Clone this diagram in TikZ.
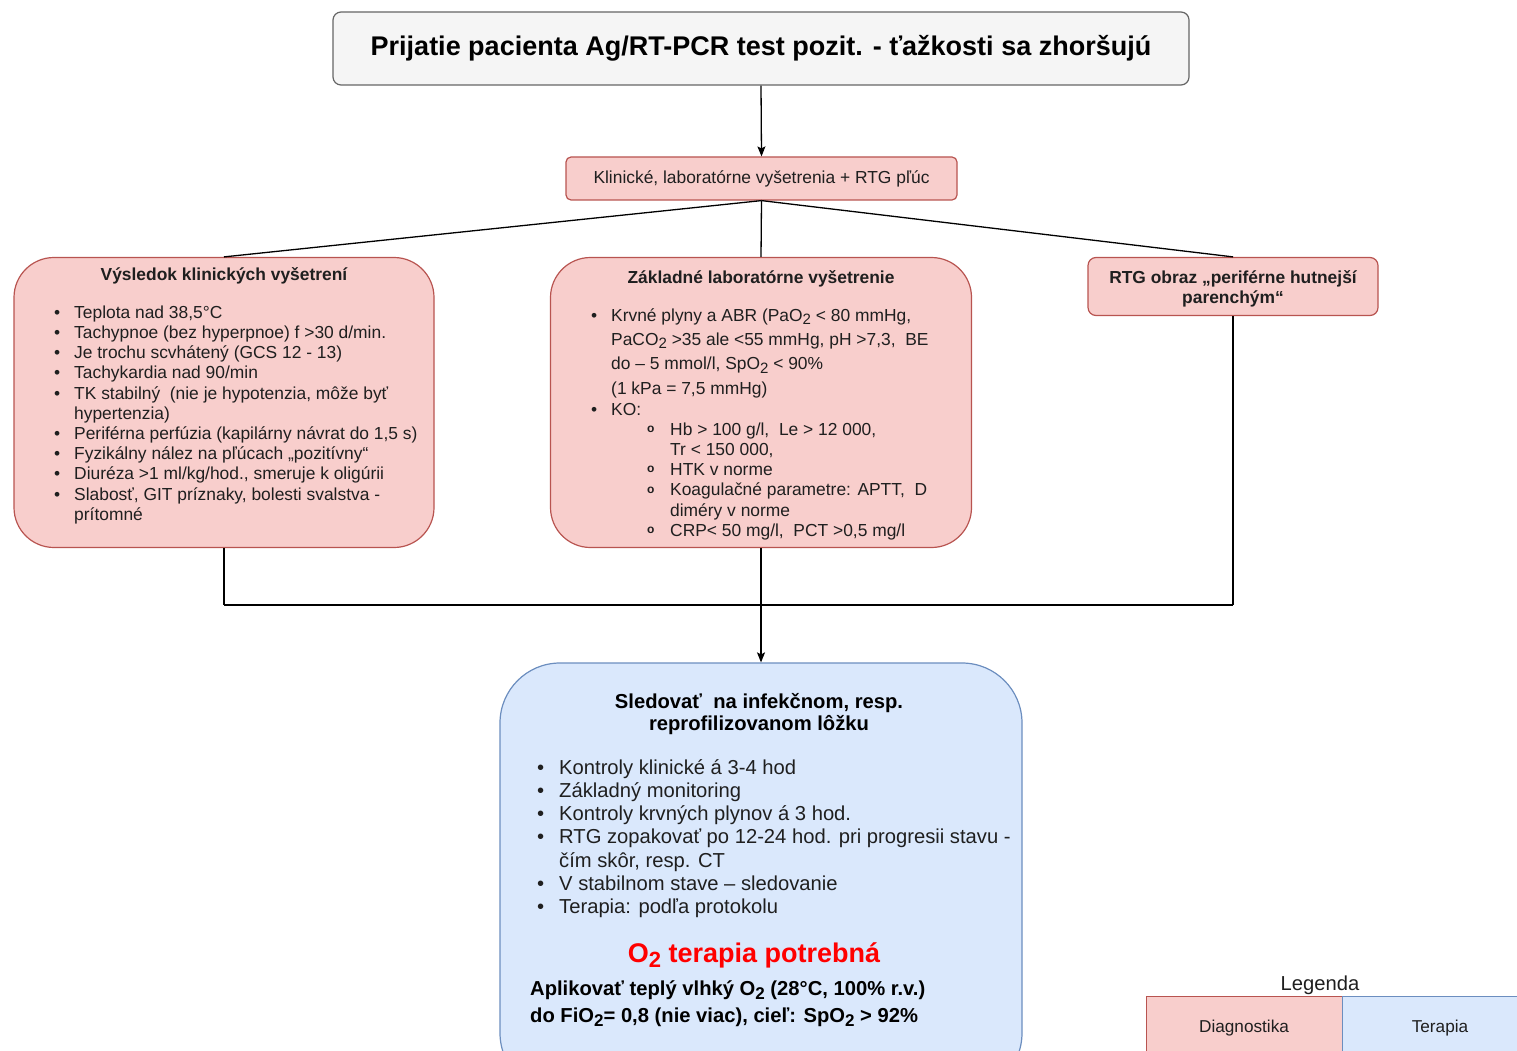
\documentclass[tikz,border=0pt]{standalone}
\usepackage{fontspec}
\setmainfont{Liberation Sans}
\usetikzlibrary{arrows.meta}
\definecolor{pinkfill}{HTML}{F8CECC}
\definecolor{pinkline}{HTML}{B85450}
\definecolor{bluefill}{HTML}{DAE8FC}
\definecolor{blueline}{HTML}{6C8EBF}
\definecolor{greyfill}{HTML}{F5F5F5}
\definecolor{greyline}{HTML}{666666}
\definecolor{txtcol}{HTML}{1F1F1F}
\definecolor{redtxt}{HTML}{FF0000}
\newcommand{\lowsub}[2]{\raisebox{-0.38ex}{\fontsize{#1}{#1}\selectfont #2}}
\newcommand{\bA}{\makebox[20pt][l]{\textbullet}}
\newcommand{\nA}{\hspace*{20pt}}
\newcommand{\bB}{\makebox[20pt][l]{\textbullet}}
\newcommand{\nB}{\hspace*{20pt}}
\newcommand{\sB}{\hspace*{56pt}\makebox[23pt][l]{\raisebox{0.3ex}{\bfseries\fontsize{12}{12}\selectfont o}}}
\newcommand{\snB}{\hspace*{79pt}}
\newcommand{\bC}{\makebox[22pt][l]{\textbullet}}
\newcommand{\nC}{\hspace*{22pt}}
\tikzset{
  pinkbox/.style={draw=pinkline, fill=pinkfill, line width=1.2pt},
  bluebox/.style={draw=blueline, fill=bluefill, line width=1.2pt},
  greybox/.style={draw=greyline, fill=greyfill, line width=1.2pt},
  txt/.style={inner sep=0pt, text=txtcol},
  conn/.style={line width=1.3pt, draw=black},
  arr/.style={conn, -{Stealth[length=10pt,width=8pt,inset=2pt]}},
}
\begin{document}
\begin{tikzpicture}[x=1pt,y=-1pt]
\useasboundingbox (0,0) rectangle (1517,1051);
\clip (0,0) rectangle (1517,1051);

% title
\node[greybox, rounded corners=8pt, minimum width=856pt, minimum height=73pt,
      font=\bfseries\fontsize{27}{30}\selectfont, text=black] (title) at (761,48.5)
  {Prijatie pacienta Ag/RT-PCR test pozit. - ťažkosti sa zhoršujú};

% clinical/lab box
\node[pinkbox, rounded corners=5pt, minimum width=391pt, minimum height=43pt,
      font=\fontsize{17.4}{20.2}\selectfont, text=txtcol] (klin) at (761.5,178.5)
  {Klinické, laboratórne vyšetrenia + RTG pľúc};

% three boxes
\node[pinkbox, rounded corners=40pt, minimum width=420pt, minimum height=290pt] (left) at (224,402.5) {};
\node[pinkbox, rounded corners=40pt, minimum width=421pt, minimum height=290pt] (mid) at (761,402.5) {};
\node[pinkbox, rounded corners=8pt, minimum width=290pt, minimum height=58pt] (right) at (1233,286.5) {};

% left box text
\node[txt, anchor=base, font=\bfseries\fontsize{17.4}{20.2}\selectfont] (lefthead) at (224,280.2)
  {Výsledok klinických vyšetrení};
\node[txt, anchor=base west, font=\fontsize{17.4}{20.2}\selectfont] (leftlist) at (54,318.2)
  {\begin{tabular}[t]{@{}l@{}}
   \bA Teplota nad 38,5°C\\
   \bA Tachypnoe (bez hyperpnoe) f >30 d/min.\\
   \bA Je trochu scvhátený (GCS 12 - 13)\\
   \bA Tachykardia nad 90/min\\
   \bA TK stabilný\ \ (nie je hypotenzia, môže byť\\
   \nA hypertenzia)\\
   \bA Periférna perfúzia (kapilárny návrat do 1,5 s)\\
   \bA Fyzikálny nález na pľúcach „pozitívny“\\
   \bA Diuréza >1 ml/kg/hod., smeruje k oligúrii\\
   \bA Slabosť, GIT príznaky, bolesti svalstva -\\
   \nA prítomné
   \end{tabular}};

% middle box text
\node[txt, anchor=base, font=\bfseries\fontsize{17.4}{20.2}\selectfont] (midhead) at (761,283.2)
  {Základné laboratórne vyšetrenie};
\node[txt, anchor=base west, font=\fontsize{17.4}{20.2}\selectfont] (midlist) at (591,321.2)
  {\begin{tabular}[t]{@{}l@{}}
   \bB Krvné plyny a ABR (PaO\lowsub{15}{2} < 80 mmHg,\\[4.1pt]
   \nB PaCO\lowsub{15}{2} >35 ale <55 mmHg, pH >7,3,\ \ BE\\[4.1pt]
   \nB do – 5 mmol/l, SpO\lowsub{15}{2} < 90\%\\[4.1pt]
   \nB (1 kPa = 7,5 mmHg)\\[0.8pt]
   \bB KO:\\
   \sB Hb > 100 g/l,\ \ Le > 12 000,\\
   \snB Tr < 150 000,\\
   \sB HTK v norme\\
   \sB Koagulačné parametre: APTT,\ \ D\\
   \snB diméry v norme\\
   \sB CRP< 50 mg/l,\ \ PCT >0,5 mg/l
   \end{tabular}};

% right box text
\node[txt, anchor=base, font=\bfseries\fontsize{17.4}{20.2}\selectfont] (righttxt) at (1233,283.2)
  {\begin{tabular}[t]{@{}c@{}}RTG obraz „periférne hutnejší\\ parenchým“\end{tabular}};

% junction
\coordinate (jl) at (224,605);
\coordinate (jr) at (1233,605);

% bottom box
\node[bluebox, rounded corners=60pt, minimum width=522pt, minimum height=430pt] (bottom) at (761,878) {};
\node[txt, anchor=base, font=\bfseries\fontsize{20.2}{22.5}\selectfont, text=black] (bothead) at (759,708.2)
  {\begin{tabular}[t]{@{}c@{}}Sledovať\ \ na infekčnom, resp.\\ reprofilizovanom lôžku\end{tabular}};
\node[txt, anchor=base west, font=\fontsize{20.2}{23.2}\selectfont] (botlist) at (537,774.2)
  {\begin{tabular}[t]{@{}l@{}}
   \bC Kontroly klinické á 3-4 hod\\
   \bC Základný monitoring\\
   \bC Kontroly krvných plynov á 3 hod.\\
   \bC RTG zopakovať po 12-24 hod. pri progresii stavu -\\
   \nC čím skôr, resp. CT\\
   \bC V stabilnom stave – sledovanie\\
   \bC Terapia: podľa protokolu
   \end{tabular}};
\node[txt, anchor=base, font=\bfseries\fontsize{27}{30}\selectfont, text=redtxt] (o2) at (754,962.5)
  {O\lowsub{22}{2} terapia potrebná};
\node[txt, anchor=base west, font=\bfseries\fontsize{20.2}{27}\selectfont, text=black] (o2a) at (530,995.2)
  {Aplikovať teplý vlhký O\lowsub{17}{2} (28°C, 100\% r.v.)};
\node[txt, anchor=base west, font=\bfseries\fontsize{20.2}{27}\selectfont, text=black] (o2b) at (530,1022.2)
  {do FiO\lowsub{17}{2}= 0,8 (nie viac), cieľ: SpO\lowsub{17}{2} > 92\%};

% legend
\node[txt, anchor=base, font=\fontsize{20.2}{22}\selectfont, text=txtcol] (legtitle) at (1320,990.2) {Legenda};
\node[draw=pinkline, fill=pinkfill, line width=1pt, minimum width=196pt, minimum height=64pt,
      font=\fontsize{17.2}{20}\selectfont, text=txtcol] (diag) at (1244,1028) {Diagnostika};
\node[draw=blueline, fill=bluefill, line width=1pt, minimum width=196pt, minimum height=64pt,
      font=\fontsize{17.2}{20}\selectfont, text=txtcol] (ter) at (1440,1028) {Terapia};

% connectors
\draw[arr] (title.south) -- (klin.north);
\draw[conn] (klin.south) -- (left.north);
\draw[conn] (klin.south) -- (mid.north);
\draw[conn] (klin.south) -- (right.north);
\draw[conn] (left.south) -- (jl);
\draw[conn] (right.south) -- (jr);
\draw[conn, line width=1.7pt] (jl) -- (jr);
\draw[arr] (mid.south) -- (bottom.north);
\end{tikzpicture}
\end{document}
